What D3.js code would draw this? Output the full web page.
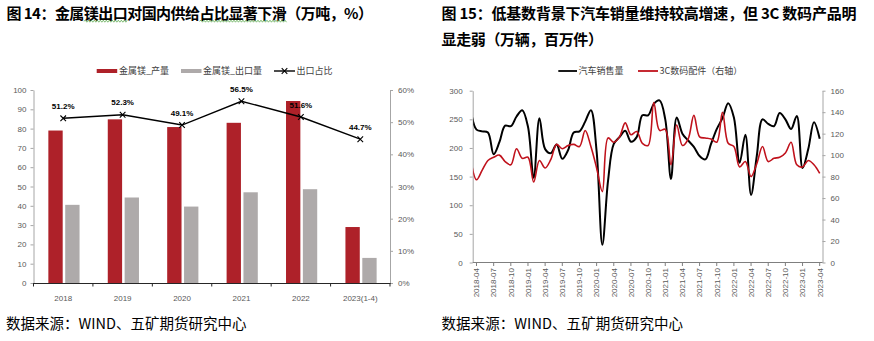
<!DOCTYPE html>
<html><head><meta charset="utf-8">
<script src="https://cdn.jsdelivr.net/npm/d3@7"></script>
<style>
html,body{margin:0;padding:0;background:#fff;}
svg{display:block;}
text{font-family:"Liberation Sans",Arial,sans-serif;}
.cjk{font-family:"Noto Sans CJK SC","Noto Sans",sans-serif;}
</style></head><body>
<svg id="c" width="874" height="341"></svg>
<script>
// ---------- Chart 1 data (万吨, %) ----------
const years = ["2018", "2019", "2020", "2021", "2022", "2023(1-4)"];
const mgOutput = [79.0, 84.8, 80.8, 83.0, 94.3, 29.0];     // 金属镁_产量
const mgExport = [40.5, 44.3, 39.6, 47.0, 48.6, 13.0];     // 金属镁_出口量
const exportShare = [51.2, 52.3, 49.1, 56.5, 51.6, 44.7];  // 出口占比 %
const leftTicks1 = [0, 10, 20, 30, 40, 50, 60, 70, 80, 90, 100];
const rightTicks1 = [0, 0.1, 0.2, 0.3, 0.4, 0.5, 0.6];

// ---------- Chart 2 data (万辆, 百万件), monthly from 2018-03 ----------
const firstMonth = "2018-03";
const autoSales = [266, 232, 229, 227, 189, 210, 239, 238, 255, 266,
  237, 148, 252, 198, 191, 206, 181, 196, 227, 229, 246, 266,
  194, 31, 143, 207, 219, 230, 211, 219, 257, 257, 277, 283,
  250, 146, 253, 225, 213, 202, 186, 180, 207, 233, 252, 278,
  253, 174, 223, 118, 186, 250, 242, 238, 261, 250, 233, 256,
  165, 198, 245, 216];
const digital3C = [96, 77, 86, 95, 98, 100, 94, 91, 106, 97,
  98, 75, 95, 88, 96, 110, 106, 109, 110, 108, 123, 108,
  88, 66, 116, 112, 117, 130, 119, 122, 111, 109, 149, 123,
  124, 91, 128, 109, 115, 137, 117, 116, 115, 112, 140, 111,
  108, 89, 94, 80, 92, 108, 94, 97, 98, 102, 112, 91,
  89, 95, 91, 83];
const monthTicks = ["2018-04","2018-07","2018-10","2019-01","2019-04","2019-07","2019-10",
  "2020-01","2020-04","2020-07","2020-10","2021-01","2021-04","2021-07","2021-10",
  "2022-01","2022-04","2022-07","2022-10","2023-01","2023-04"];
const leftTicks2 = [0, 50, 100, 150, 200, 250, 300];
const rightTicks2 = [0, 20, 40, 60, 80, 100, 120, 140, 160];

const svg = d3.select("#c");
const TICK = "#595959", AX = "#A6A6A6";
const RED = "#AE2129", GREY = "#AEAAAA", RED2 = "#C0121C";

// ---------- titles ----------
function title(x, y, str, len, size, weight) {
  return svg.append("text").attr("class", "cjk").attr("x", x).attr("y", y)
    .attr("font-size", size).attr("font-weight", weight).attr("fill", "#000")
    .attr("textLength", len).attr("lengthAdjust", "spacing").text(str);
}
const t1 = title(6.5, 18.6, "图 14：金属镁出口对国内供给占比显著下滑（万吨，%）", 366.5, 15, 700);
title(441.5, 18.6, "图 15：低基数背景下汽车销量维持较高增速，但 3C 数码产品明", 415, 15, 700);
title(441.5, 45.4, "显走弱（万辆，百万件）", 161.5, 15, 700);
// spell-check squiggles under parts of title 1
function squiggle(textSel, from, to) {
  const n = textSel.node();
  const a = n.getStartPositionOfChar(from).x;
  const b = n.getEndPositionOfChar(to).x;
  const y = n.getStartPositionOfChar(from).y + 2.6;
  let d = `M${a},${y}`;
  let up = true;
  for (let x = a + 1.5; x <= b; x += 1.5) { d += `L${x},${y + (up ? -1 : 1)}`; up = !up; }
  svg.append("path").attr("d", d).attr("fill", "none").attr("stroke", "#5DAA4F").attr("stroke-width", 0.8);
}
squiggle(t1, 7, 9);
squiggle(t1, 15, 20);

// footers
title(6, 328.8, "数据来源：WIND、五矿期货研究中心", 240.5, 14.5, 400);
title(441.5, 329.2, "数据来源：WIND、五矿期货研究中心", 241.5, 14.5, 400);

// ================= Chart 1 =================
const L = {x0: 33.5, x1: 390, y0: 283, y1: 90};
const xb = d3.scaleBand().domain(years).range([L.x0, L.x1]);
const bw = xb.bandwidth();
const xin = d3.scaleBand().domain(["out", "exp"]).range([bw * 0.25, bw * 0.775]).paddingInner(0.15);
const yl = d3.scaleLinear().domain([0, 100]).range([L.y0, L.y1]);
const yr = d3.scaleLinear().domain([0, 0.6]).range([L.y0, L.y1]);

function styleAxis(g, domainColor) {
  g.select(".domain").attr("stroke", domainColor);
  g.selectAll(".tick line").attr("stroke", domainColor);
  g.selectAll(".tick text").attr("fill", TICK).attr("font-size", 8);
}
svg.append("g").attr("transform", `translate(${L.x0},0)`)
  .call(d3.axisLeft(yl).tickValues(leftTicks1).tickSize(3).tickSizeOuter(0).tickPadding(4))
  .call(g => styleAxis(g, AX));
svg.append("g").attr("transform", `translate(${L.x1},0)`)
  .call(d3.axisRight(yr).tickValues(rightTicks1).tickFormat(d3.format(".0%")).tickSize(3).tickSizeOuter(0).tickPadding(5))
  .call(g => styleAxis(g, AX));

// bars
const rows = years.map((y, i) => ({year: y, out: mgOutput[i], exp: mgExport[i], share: exportShare[i]}));
const bars = svg.append("g");
bars.selectAll(".bo").data(rows).join("rect")
  .attr("x", d => xb(d.year) + xin("out")).attr("width", xin.bandwidth())
  .attr("y", d => yl(d.out)).attr("height", d => yl(0) - yl(d.out)).attr("fill", RED);
bars.selectAll(".be").data(rows).join("rect")
  .attr("x", d => xb(d.year) + xin("exp")).attr("width", xin.bandwidth())
  .attr("y", d => yl(d.exp)).attr("height", d => yl(0) - yl(d.exp)).attr("fill", GREY);

// bottom axis
const bx = svg.append("g").attr("transform", `translate(0,${L.y0})`)
  .call(d3.axisBottom(xb).tickSize(0).tickSizeOuter(0).tickPadding(12));
bx.select(".domain").attr("stroke", "#262626").attr("stroke-width", 1.2);
bx.selectAll(".tick text").attr("fill", TICK).attr("font-size", 8);
bx.selectAll(".sep").data(years.concat(["_end"])).join("line")
  .attr("x1", (d, i) => L.x0 + i * xb.step()).attr("x2", (d, i) => L.x0 + i * xb.step())
  .attr("y1", 0).attr("y2", 3.5).attr("stroke", "#262626");

// share line
const cx = d => xb(d.year) + bw / 2;
const line1 = d3.line().x(cx).y(d => yr(d.share / 100));
svg.append("path").datum(rows).attr("d", line1).attr("fill", "none").attr("stroke", "#000").attr("stroke-width", 1.4);
const mk = svg.append("g").selectAll("g").data(rows).join("g")
  .attr("transform", d => `translate(${cx(d)},${yr(d.share / 100)})`);
mk.append("path").attr("d", "M-2.8,-2.8L2.8,2.8M-2.8,2.8L2.8,-2.8").attr("stroke", "#000").attr("stroke-width", 1.1);
svg.append("g").selectAll("text").data(rows).join("text")
  .attr("x", cx).attr("y", d => yr(d.share / 100) - 9.5)
  .attr("text-anchor", "middle").attr("font-size", 8).attr("font-weight", 700).attr("fill", "#000")
  .text(d => d.share.toFixed(1) + "%");

// legend 1
const lg1 = svg.append("g").attr("class", "cjk");
lg1.append("rect").attr("x", 96.7).attr("y", 69).attr("width", 20.5).attr("height", 4).attr("fill", RED);
lg1.append("text").attr("x", 119).attr("y", 74.3).attr("font-size", 9).attr("fill", "#404040").attr("class", "cjk").text("金属镁_产量");
lg1.append("rect").attr("x", 181).attr("y", 69).attr("width", 20.5).attr("height", 4).attr("fill", GREY);
lg1.append("text").attr("x", 203).attr("y", 74.3).attr("font-size", 9).attr("fill", "#404040").attr("class", "cjk").text("金属镁_出口量");
lg1.append("line").attr("x1", 274).attr("x2", 295).attr("y1", 71).attr("y2", 71).attr("stroke", "#000").attr("stroke-width", 1.4);
lg1.append("path").attr("transform", "translate(284.5,71)").attr("d", "M-2.8,-2.8L2.8,2.8M-2.8,2.8L2.8,-2.8").attr("stroke", "#000").attr("stroke-width", 1.1);
lg1.append("text").attr("x", 296.5).attr("y", 74.3).attr("font-size", 9).attr("fill", "#404040").attr("class", "cjk").text("出口占比");

// ================= Chart 2 =================
const R = {x0: 472.7, x1: 822.5, y0: 262.5, y1: 90.7};
const parseM = d3.timeParse("%Y-%m"), fmtM = d3.timeFormat("%Y-%m");
const m0 = parseM(firstMonth);
const months = autoSales.map((v, i) => fmtM(d3.timeMonth.offset(m0, i)));
const mIdx = s => { const [y, m] = s.split("-").map(Number); return (y - 2018) * 12 + (m - 4); };
const xm = d3.scaleLinear().domain([mIdx(monthTicks[0]), mIdx(monthTicks[monthTicks.length - 1])]).range([476.5, 819.7]);
const ysl = d3.scaleLinear().domain([0, 300]).range([R.y0, R.y1]);
const ysr = d3.scaleLinear().domain([0, 160]).range([R.y0, R.y1]);

svg.append("g").attr("transform", `translate(${R.x0},0)`)
  .call(d3.axisLeft(ysl).tickValues(leftTicks2).tickSize(3).tickSizeOuter(0).tickPadding(7))
  .call(g => styleAxis(g, AX));
svg.append("g").attr("transform", `translate(${R.x1},0)`)
  .call(d3.axisRight(ysr).tickValues(rightTicks2).tickSize(3).tickSizeOuter(0).tickPadding(5))
  .call(g => styleAxis(g, AX));
// bottom axis
const bx2 = svg.append("g");
bx2.append("line").attr("x1", R.x0).attr("x2", R.x1).attr("y1", R.y0).attr("y2", R.y0).attr("stroke", "#7F7F7F").attr("stroke-width", 1.2);
bx2.selectAll("line.t").data(monthTicks).join("line").attr("class", "t")
  .attr("x1", d => xm(mIdx(d))).attr("x2", d => xm(mIdx(d))).attr("y1", R.y0).attr("y2", R.y0 + 3.5).attr("stroke", "#7F7F7F");
bx2.selectAll("text").data(monthTicks).join("text")
  .attr("transform", d => `translate(${xm(mIdx(d))},${R.y0 + 5.5}) rotate(-90)`)
  .attr("text-anchor", "end").attr("dy", "0.35em").attr("font-size", 8).attr("fill", TICK).text(d => d);

svg.append("clipPath").attr("id", "clip2").append("rect")
  .attr("x", R.x0 + 0.5).attr("y", R.y1 - 10).attr("width", R.x1 - R.x0 - 1).attr("height", R.y0 - R.y1 + 10);
const plot2 = svg.append("g").attr("clip-path", "url(#clip2)");
const autoPts = months.map((m, i) => ({m, v: autoSales[i]}));
const digPts = months.map((m, i) => ({m, v: digital3C[i]}));
plot2.append("path").datum(autoPts)
  .attr("d", d3.line().x(d => xm(mIdx(d.m))).y(d => ysl(d.v)).curve(d3.curveCatmullRom.alpha(0.5)))
  .attr("fill", "none").attr("stroke", "#000").attr("stroke-width", 2);
plot2.append("path").datum(digPts)
  .attr("d", d3.line().x(d => xm(mIdx(d.m))).y(d => ysr(d.v)).curve(d3.curveCatmullRom.alpha(0.5)))
  .attr("fill", "none").attr("stroke", RED2).attr("stroke-width", 1.6);

// legend 2
const lg2 = svg.append("g");
lg2.append("line").attr("x1", 558.3).attr("x2", 577).attr("y1", 71).attr("y2", 71).attr("stroke", "#000").attr("stroke-width", 1.8);
lg2.append("text").attr("class", "cjk").attr("x", 578.5).attr("y", 74.3).attr("font-size", 9).attr("fill", "#404040").text("汽车销售量");
lg2.append("line").attr("x1", 638).attr("x2", 658).attr("y1", 71).attr("y2", 71).attr("stroke", RED2).attr("stroke-width", 1.8);
lg2.append("text").attr("class", "cjk").attr("x", 659.5).attr("y", 74.3).attr("font-size", 9).attr("fill", "#404040").text("3C数码配件（右轴）");
</script>
</body></html>
